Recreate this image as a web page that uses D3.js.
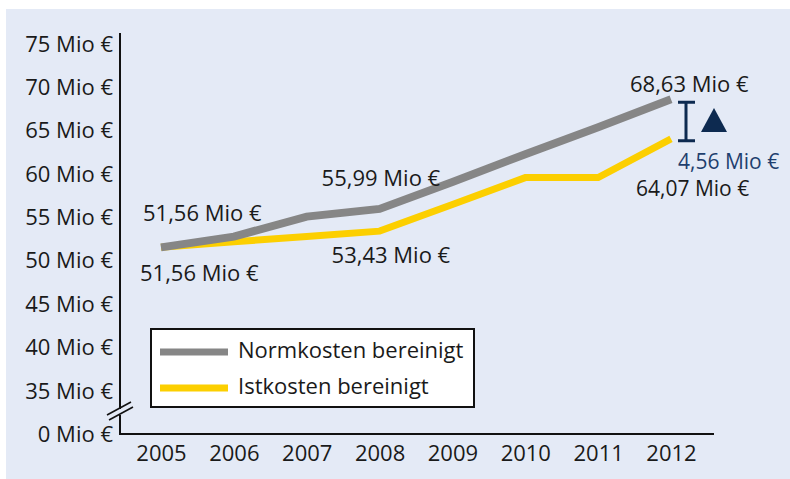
<!DOCTYPE html>
<meta charset="utf-8">
<script src="https://d3js.org/d3.v7.min.js"></script>
<style>
  body { margin: 0; background: #fff; }
  text { font-family: "Open Sans", sans-serif; }
</style>
<div id="chart"></div>
<script>

// data
var years = [2005, 2006, 2007, 2008, 2009, 2010, 2011, 2012];
var normkosten = [51.56, 52.8, 55.1, 55.99, 59.1, 62.3, 65.4, 68.63];
var istkosten  = [51.56, 52.2, 52.8, 53.43, 56.5, 59.6, 59.6, 64.07];
var yTicks = [0, 35, 40, 45, 50, 55, 60, 65, 70, 75];
var seriesNames = ["Normkosten bereinigt", "Istkosten bereinigt"];

// value labels: [series, year index, dx, dy, font size]
var valueLabels = [
  [normkosten, 0, -18, -34, 22],
  [istkosten, 0, -21, 26, 22],
  [normkosten, 3, -58, -31, 22],
  [istkosten, 3, -48, 24, 22],
  [normkosten, 7, -41, -15, 22],
  [istkosten, 7, -35, 50, 21]
];

var width = 790, height = 479;
var fmt = function(v) { return d3.format(".2f")(v).replace(".", ",") + " Mio €"; };

var svg = d3.select("#chart")
  .append("svg")
    .attr("width", width)
    .attr("height", height);

// panel background
svg.append("rect")
  .attr("x", 6).attr("y", 9)
  .attr("width", 784).attr("height", 470)
  .attr("fill", "#e4eaf6");

// scales (broken y axis: 0 .. 35 squeezed)
var x = d3.scalePoint()
  .domain(years)
  .range([161, 671]);

var y = d3.scaleLinear()
  .domain([0, 35, 75])
  .range([434, 391, 44]);

// Y axis
var yAxis = svg.append("g")
  .attr("transform", "translate(120,0)")
  .call(d3.axisLeft(y).tickValues(yTicks).tickSize(0).tickPadding(7)
    .tickFormat(function(d) { return d + " Mio €"; }));
yAxis.select(".domain").remove();
yAxis.selectAll("text")
  .attr("font-size", 22)
  .attr("font-family", "Open Sans")
  .attr("fill", "#1a1a1a");

// X axis
var xAxis = svg.append("g")
  .attr("transform", "translate(0,434)")
  .call(d3.axisBottom(x).tickSize(0).tickPadding(11).tickFormat(d3.format("d")));
xAxis.select(".domain").remove();
xAxis.selectAll("text")
  .attr("font-size", 22)
  .attr("font-family", "Open Sans")
  .attr("fill", "#1a1a1a");

// axis lines with break
svg.append("path")
  .attr("d", "M120,33 V409 M120,415 V434 H714")
  .attr("fill", "none")
  .attr("stroke", "#111")
  .attr("stroke-width", 2);
svg.append("path")
  .attr("d", "M107,415 L131,402 M109,420 L133,407")
  .attr("fill", "none")
  .attr("stroke", "#111")
  .attr("stroke-width", 1.6);

// lines
var line = d3.line()
  .x(function(d, i) { return x(years[i]); })
  .y(function(d) { return y(d); });

svg.append("path")
  .datum(istkosten)
  .attr("d", line)
  .attr("fill", "none")
  .attr("stroke", "#fccf00")
  .attr("stroke-width", 7);

svg.append("path")
  .datum(normkosten)
  .attr("d", line)
  .attr("fill", "none")
  .attr("stroke", "#868686")
  .attr("stroke-width", 8);

// value labels
svg.selectAll(".vlabel")
  .data(valueLabels)
  .enter()
  .append("text")
    .attr("class", "vlabel")
    .attr("x", function(d) { return x(years[d[1]]) + d[2]; })
    .attr("y", function(d) { return y(d[0][d[1]]) + d[3]; })
    .attr("dy", "0.35em")
    .attr("font-size", function(d) { return d[4]; })
    .attr("fill", "#1a1a1a")
    .text(function(d) { return fmt(d[0][d[1]]); });

// difference annotation
var last = years.length - 1;
var yTop = y(normkosten[last]) + 3, yBot = y(istkosten[last]) + 2;
var bx = 686;
svg.append("path")
  .attr("d", "M" + (bx - 8) + "," + yTop + " H" + (bx + 9) +
             " M" + bx + "," + yTop + " V" + yBot +
             " M" + (bx - 8) + "," + yBot + " H" + (bx + 9))
  .attr("fill", "none")
  .attr("stroke", "#0d2a50")
  .attr("stroke-width", 3);
svg.append("path")
  .attr("d", "M701,132 L727,132 L714,108 Z")
  .attr("fill", "#0d2a50");
svg.append("text")
  .attr("x", 678)
  .attr("y", yBot + 21)
  .attr("dy", "0.35em")
  .attr("font-size", 21)
  .attr("fill", "#1f3f6e")
  .text(fmt(normkosten[last] - istkosten[last]));

// legend
var legend = svg.append("g");
legend.append("rect")
  .attr("x", 151).attr("y", 329)
  .attr("width", 323).attr("height", 78)
  .attr("fill", "#fff")
  .attr("stroke", "#111")
  .attr("stroke-width", 2);
var legendColors = ["#868686", "#fccf00"];
seriesNames.forEach(function(name, i) {
  legend.append("line")
    .attr("x1", 160).attr("x2", 228)
    .attr("y1", 352 + i * 36).attr("y2", 352 + i * 36)
    .attr("stroke", legendColors[i])
    .attr("stroke-width", 7);
  legend.append("text")
    .attr("x", 238)
    .attr("y", 350 + i * 36)
    .attr("dy", "0.35em")
    .attr("font-size", 22)
    .attr("fill", "#1a1a1a")
    .text(name);
});

</script>
